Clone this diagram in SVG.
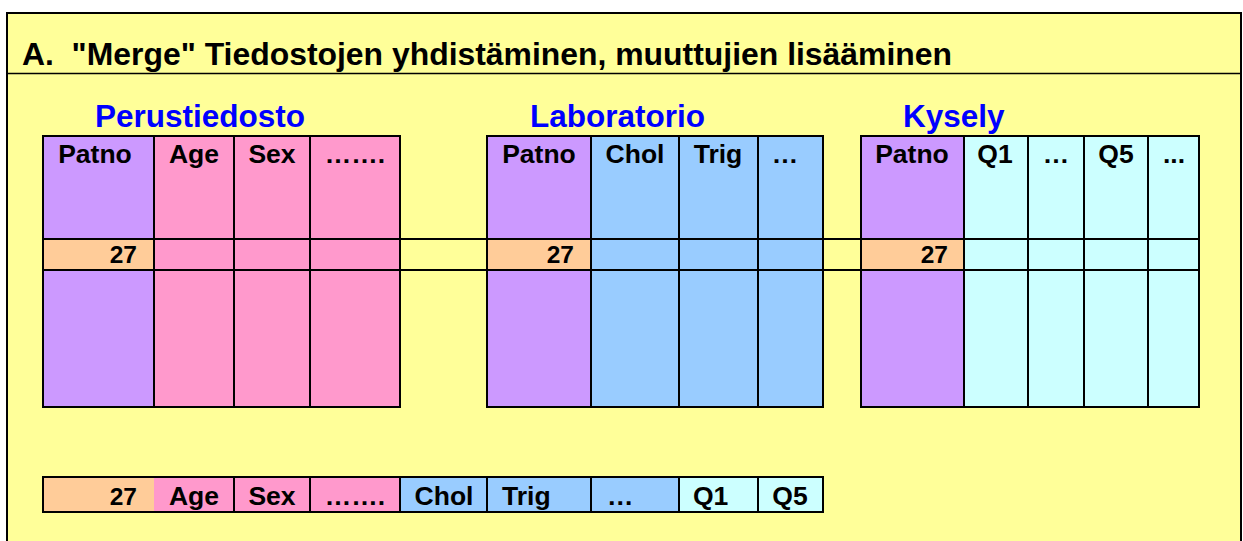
<svg xmlns="http://www.w3.org/2000/svg" width="1243" height="541" viewBox="0 0 1243 541">
  <style>
    text { font-family: "Liberation Sans", Arial, sans-serif; font-weight: bold; fill: #000; }
    .title { font-size: 31.5px; }
    .heading { font-size: 31.5px; fill: #0000FF; }
    .hdr { font-size: 26.5px; text-anchor: middle; }
    .key { font-size: 24.5px; text-anchor: end; }
    .cell { font-size: 26.5px; }
    .grid { fill: none; stroke: #000; stroke-width: 2; }
    .purple { fill: #CC99FF; }
    .pink { fill: #FF99CC; }
    .orange { fill: #FFCC99; }
    .blue { fill: #99CCFF; }
    .cyan { fill: #CCFFFF; }
  </style>

  <!-- page background and frame -->
  <rect x="0" y="0" width="1243" height="541" fill="#FFFFFF"/>
  <rect x="7" y="13" width="1234" height="540" fill="#FFFF99" stroke="#000" stroke-width="2"/>
  <line x1="7" y1="73.5" x2="1241" y2="73.5" stroke="#000" stroke-width="1.5"/>

  <g id="title">
    <text class="title" x="22" y="65" textLength="930" lengthAdjust="spacingAndGlyphs" xml:space="preserve">A.  "Merge" Tiedostojen yhdistäminen, muuttujien lisääminen</text>
  </g>

  <!-- key-row connectors between the three files -->
  <g id="connectors" class="grid">
    <line x1="400" y1="239" x2="487" y2="239"/>
    <line x1="400" y1="270" x2="487" y2="270"/>
    <line x1="823" y1="239" x2="861" y2="239"/>
    <line x1="823" y1="270" x2="861" y2="270"/>
  </g>

  <!-- base file -->
  <g id="perustiedosto">
    <text class="heading" x="95" y="127">Perustiedosto</text>
    <rect class="purple" x="43" y="136" width="111" height="271"/>
    <rect class="orange" x="43" y="239" width="111" height="31"/>
    <rect class="pink" x="154" y="136" width="246" height="271"/>
    <rect class="grid" x="43" y="136" width="357" height="271"/>
    <path class="grid" d="M154 136V407M234 136V407M310 136V407M43 239H400M43 270H400"/>
    <text class="hdr" x="95" y="163">Patno</text>
    <text class="hdr" x="194" y="163">Age</text>
    <text class="hdr" x="272" y="163">Sex</text>
    <text class="hdr" x="355" y="163">…….</text>
    <text class="key" x="137" y="263">27</text>
  </g>

  <!-- laboratory file -->
  <g id="laboratorio">
    <text class="heading" x="530" y="127">Laboratorio</text>
    <rect class="purple" x="487" y="136" width="104" height="271"/>
    <rect class="orange" x="487" y="239" width="104" height="31"/>
    <rect class="blue" x="591" y="136" width="232" height="271"/>
    <rect class="grid" x="487" y="136" width="336" height="271"/>
    <path class="grid" d="M591 136V407M679 136V407M758 136V407M487 239H823M487 270H823"/>
    <text class="hdr" x="539" y="163">Patno</text>
    <text class="hdr" x="635" y="163">Chol</text>
    <text class="hdr" x="718" y="163">Trig</text>
    <text class="hdr" x="785" y="163">…</text>
    <text class="key" x="574" y="263">27</text>
  </g>

  <!-- questionnaire file -->
  <g id="kysely">
    <text class="heading" x="903" y="127">Kysely</text>
    <rect class="purple" x="861" y="136" width="103" height="271"/>
    <rect class="orange" x="861" y="239" width="103" height="31"/>
    <rect class="cyan" x="964" y="136" width="235" height="271"/>
    <rect class="grid" x="861" y="136" width="338" height="271"/>
    <path class="grid" d="M964 136V407M1028 136V407M1084 136V407M1148 136V407M861 239H1199M861 270H1199"/>
    <text class="hdr" x="912" y="163">Patno</text>
    <text class="hdr" x="995" y="163">Q1</text>
    <text class="hdr" x="1056" y="163">…</text>
    <text class="hdr" x="1116" y="163">Q5</text>
    <text class="hdr" x="1174" y="163">...</text>
    <text class="key" x="948" y="263">27</text>
  </g>

  <!-- merged record -->
  <g id="yhdistetty">
    <rect class="orange" x="43" y="477" width="111" height="35"/>
    <rect class="pink" x="154" y="477" width="246" height="35"/>
    <rect class="blue" x="400" y="477" width="279" height="35"/>
    <rect class="cyan" x="679" y="477" width="144" height="35"/>
    <rect class="grid" x="43" y="477" width="780" height="35"/>
    <path class="grid" d="M234 477V512M310 477V512M400 477V512M487 477V512M591 477V512M679 477V512M758 477V512"/>
    <text class="key" x="137" y="505">27</text>
    <text class="hdr" x="194" y="505">Age</text>
    <text class="hdr" x="272" y="505">Sex</text>
    <text class="hdr" x="355" y="505">…….</text>
    <text class="hdr" x="444" y="505">Chol</text>
    <text class="cell" x="502" y="505">Trig</text>
    <text class="cell" x="607" y="505">…</text>
    <text class="cell" x="693" y="505">Q1</text>
    <text class="hdr" x="790" y="505">Q5</text>
  </g>
</svg>
